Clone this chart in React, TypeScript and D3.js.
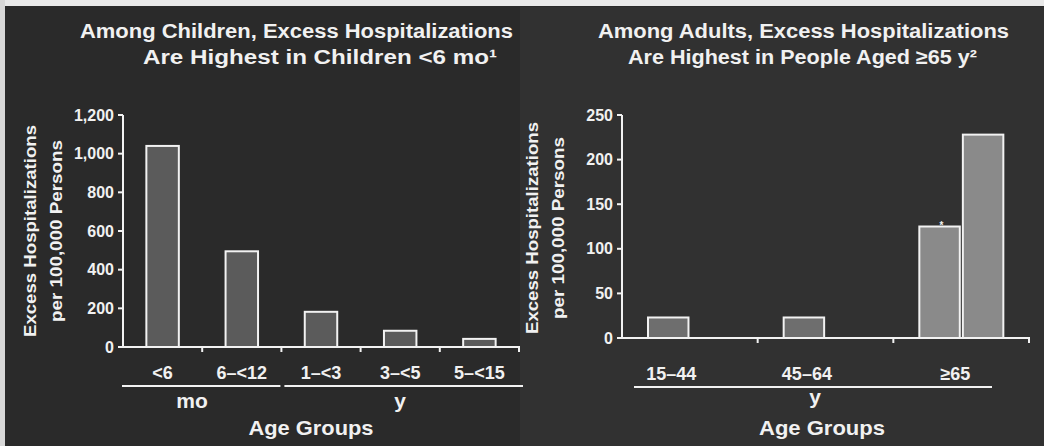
import React from "react";
import * as d3 from "d3";

// ---- Data ----
const childGroups = ["<6", "6–<12", "1–<3", "3–<5", "5–<15"];
const childValues = [1040, 495, 182, 84, 42];
const childTicks = [0, 200, 400, 600, 800, 1000, 1200];
const childUnits = [
  { label: "mo", from: 0, to: 2 },
  { label: "y", from: 2, to: 5 },
];

const adultGroups = ["15–44", "45–64", "≥65"];
const adultSeriesKeys = ["a", "b"];
const adultSeriesA = [23, 23, 125];
const adultSeriesB: (number | null)[] = [null, null, 228];
const adultTicks = [0, 50, 100, 150, 200, 250];

const titleLeft = ["Among Children, Excess Hospitalizations", "Are Highest in Children <6 mo¹"];
const titleRight = ["Among Adults, Excess Hospitalizations", "Are Highest in People Aged ≥65 y²"];
const yLabel = ["Excess Hospitalizations", "per 100,000 Persons"];

const W = 1044;
const H = 446;
const TXT = "#f1f1f1";
const FONT = "'Liberation Sans', Arial, Helvetica, sans-serif";

function T(props: any) {
  const { children, ...rest } = props;
  return (
    <text fill={TXT} fontFamily={FONT} fontWeight="bold" lengthAdjust="spacingAndGlyphs" {...rest}>
      {children}
    </text>
  );
}

export default function App() {
  // Left panel scales
  const xL = d3.scaleBand<string>().domain(childGroups).range([123, 519]).paddingInner(0.59).paddingOuter(0.295);
  const yL = d3.scaleLinear().domain([0, 1200]).range([347, 115]);
  const stepL = xL.step();
  const boundL = (i: number) => 123 + i * stepL;

  // Right panel scales
  const xR = d3.scaleBand<string>().domain(adultGroups).range([622, 1029]).padding(0);
  const xRi = d3.scaleBand<string>().domain(adultSeriesKeys).range([26, 110]).paddingInner(0.07);
  const yR = d3.scaleLinear().domain([0, 250]).range([338, 115]);

  const fillL = "#5b5b5b";
  const fillR = ["#6e6e6e", "#6e6e6e", "#8a8a8a"];
  const axisC = "#f2f2f2";

  return (
    <svg width={W} height={H} style={{ position: "absolute", left: 0, top: 0, background: "#2b2b2b" }}>
      {/* background */}
      <rect x={0} y={0} width={W} height={H} fill="#2a2a2a" />
      <rect x={520} y={7} width={W - 520} height={H - 7} fill="#313131" />
      <rect x={0} y={0} width={W} height={6} fill="#e9e9e9" />
      <rect x={0} y={0} width={5} height={H} fill="#d8d8d8" />

      {/* Titles */}
      <T x={80} y={38} fontSize={20} textLength={433}>{titleLeft[0]}</T>
      <T x={143} y={64} fontSize={20} textLength={354}>{titleLeft[1]}</T>
      <T x={598} y={38} fontSize={20} textLength={411}>{titleRight[0]}</T>
      <T x={628} y={64} fontSize={20} textLength={349}>{titleRight[1]}</T>

      {/* ===== Left panel ===== */}
      <g>
        <T transform={`translate(30,231) rotate(-90)`} x={0} y={0} fontSize={17} textAnchor="middle"
          dominantBaseline="central" textLength={212}>{yLabel[0]}</T>
        <T transform={`translate(56,231) rotate(-90)`} x={0} y={0} fontSize={17} textAnchor="middle"
          dominantBaseline="central" textLength={182}>{yLabel[1]}</T>
        {childGroups.map((g, i) => (
          <rect key={g} x={xL(g)} y={yL(childValues[i])} width={xL.bandwidth()} height={yL(0) - yL(childValues[i])}
            fill={fillL} stroke={axisC} strokeWidth={2} />
        ))}
        <line x1={123} x2={123} y1={yL(1200)} y2={yL(0)} stroke={axisC} strokeWidth={2} />
        {childTicks.map((t) => (
          <g key={t}>
            <line x1={118} x2={123} y1={yL(t)} y2={yL(t)} stroke={axisC} strokeWidth={2} />
            <T x={114} y={yL(t)} dominantBaseline="central" textAnchor="end" fontSize={16}>{d3.format(",")(t)}</T>
          </g>
        ))}
        <line x1={122} x2={520} y1={yL(0)} y2={yL(0)} stroke={axisC} strokeWidth={2} />
        {d3.range(1, childGroups.length + 1).map((i) => (
          <line key={i} x1={boundL(i)} x2={boundL(i)} y1={yL(0)} y2={yL(0) + 5} stroke={axisC} strokeWidth={2} />
        ))}
        {childGroups.map((g) => (
          <T key={g} x={(xL(g) as number) + xL.bandwidth() / 2} y={379} textAnchor="middle" fontSize={18}>{g}</T>
        ))}
        {childUnits.map((u, k) => (
          <g key={u.label}>
            <line x1={boundL(u.from) + (k === 0 ? -1 : 3)} x2={k === 0 ? boundL(u.to) - 1 : 523} y1={386} y2={386}
              stroke={axisC} strokeWidth={2} />
            <T x={k === 0 ? 192 : 400} y={408} textAnchor="middle" fontSize={21}>{u.label}</T>
          </g>
        ))}
        <T x={311} y={435} textAnchor="middle" fontSize={21} textLength={125}>Age Groups</T>
      </g>

      {/* ===== Right panel ===== */}
      <g>
        <T transform={`translate(532,228) rotate(-90)`} x={0} y={0} fontSize={17} textAnchor="middle"
          dominantBaseline="central" textLength={212}>{yLabel[0]}</T>
        <T transform={`translate(558,228) rotate(-90)`} x={0} y={0} fontSize={17} textAnchor="middle"
          dominantBaseline="central" textLength={182}>{yLabel[1]}</T>
        {adultGroups.map((g, i) => {
          const x0 = xR(g) as number;
          const vals = [adultSeriesA[i], adultSeriesB[i]];
          return (
            <g key={g}>
              {adultSeriesKeys.map((k, j) => {
                const v = vals[j];
                if (v == null) return null;
                return (
                  <rect key={k} x={x0 + (xRi(k) as number)} y={yR(v)} width={xRi.bandwidth()} height={yR(0) - yR(v)}
                    fill={fillR[i]} stroke={axisC} strokeWidth={2} />
                );
              })}
            </g>
          );
        })}
        <T x={(xR("≥65") as number) + (xRi("a") as number) + xRi.bandwidth() / 2 + 2} y={yR(adultSeriesA[2]) + 2}
          textAnchor="middle" fontSize={10}>*</T>
        <line x1={622} x2={622} y1={yR(250)} y2={yR(0)} stroke={axisC} strokeWidth={2} />
        {adultTicks.map((t) => (
          <g key={t}>
            <line x1={617} x2={622} y1={yR(t)} y2={yR(t)} stroke={axisC} strokeWidth={2} />
            <T x={613} y={yR(t)} dominantBaseline="central" textAnchor="end" fontSize={16}>{t}</T>
          </g>
        ))}
        <line x1={621} x2={1030} y1={yR(0)} y2={yR(0)} stroke={axisC} strokeWidth={2} />
        {adultGroups.map((g) => {
          const xe = (xR(g) as number) + xR.bandwidth();
          return <line key={g} x1={xe} x2={xe} y1={yR(0)} y2={yR(0) + 5} stroke={axisC} strokeWidth={2} />;
        })}
        {adultGroups.map((g, i) => {
          const x0 = xR(g) as number;
          const cx = i < 2 ? x0 + (xRi("a") as number) + xRi.bandwidth() / 2 + 3 : x0 + 62;
          return (
            <T key={g} x={cx} y={380} textAnchor="middle" fontSize={18}>{g}</T>
          );
        })}
        <line x1={634} x2={992} y1={387} y2={387} stroke={axisC} strokeWidth={2} />
        <T x={815} y={404} textAnchor="middle" fontSize={21}>y</T>
        <T x={822} y={435} textAnchor="middle" fontSize={21} textLength={126}>Age Groups</T>
      </g>
    </svg>
  );
}
